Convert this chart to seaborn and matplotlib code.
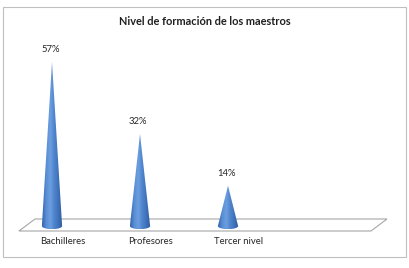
import numpy as np
import matplotlib
matplotlib.use("Agg")
import matplotlib.pyplot as plt
from matplotlib.colors import LinearSegmentedColormap
from matplotlib.patches import Polygon, Rectangle
import seaborn as sns

# --- data ---
categories = ["Bachilleres", "Profesores", "Tercer nivel"]
values = [57, 32, 14]
value_labels = ["57%", "32%", "14%"]
title = "Nivel de formación de los maestros"

W, H = 410, 268
sns.set_style("white")
plt.rcParams["font.family"] = ["Lato", "DejaVu Sans"]

fig = plt.figure(figsize=(W / 100, H / 100), dpi=100)
ax = fig.add_axes([0, 0, 1, 1])
ax.set_facecolor("none")

sns.barplot(x=categories, y=values, ax=ax, color="#4A7EC4", width=0.23)
bars = list(ax.patches)


def fx(px):
    return px / W


def fy(py):
    return 1 - py / H


# outer border and 3-D floor (figure pixel positions)
ax.add_patch(Rectangle((fx(3), fy(257)), fx(403), 250 / H, transform=fig.transFigure,
                       fill=False, ec="#BFBFBF", lw=0.8, zorder=0))
floor = [(19, 231), (35, 219), (387, 219), (371, 231)]
ax.add_patch(Polygon([(fx(a), fy(b)) for a, b in floor], closed=True, transform=fig.transFigure,
                     fc="white", ec="#A6A6A6", lw=0.8, zorder=1))

# shading for the cones
cone_cmap = LinearSegmentedColormap.from_list(
    "cone", ["#3566AC", "#5A8ED6", "#6B9EE0", "#4E83CC", "#3E70B8", "#2D5A9C"])
grad = np.linspace(0, 1, 64).reshape(1, -1)

# replace each bar with a cone
for i, bar in enumerate(bars):
    xc = bar.get_x() + bar.get_width() / 2
    hw = bar.get_width() / 2
    h = bar.get_height()
    bar.set_visible(False)
    eh = 1.1
    t = np.linspace(np.pi, 2 * np.pi, 40)
    pts = [(xc, h)] + [(xc + hw * np.cos(a), eh * np.sin(a)) for a in t]
    cone = Polygon(pts, closed=True, fc="none", ec="none")
    ax.add_patch(cone)
    im = ax.imshow(grad, cmap=cone_cmap, extent=[xc - hw, xc + hw, -eh, h],
                   aspect="auto", zorder=3, interpolation="bilinear")
    im.set_clip_path(cone)
    ax.text(xc - 0.02, h + 2.7, value_labels[i], ha="center", va="bottom", fontsize=6.8,
            color="#262626", zorder=4)
    ax.text(xc + 0.12, -5.4, categories[i], ha="center", va="center",
            fontsize=6.8, color="#262626", zorder=4)

# map data onto the figure: category spacing 88px, 0% at y=226px, 2.877px per %
x0 = -0.5 - 8 / 88
ax.set_xlim(x0, x0 + W / 88)
ax.set_ylim((226 - H) / 2.877, 226 / 2.877)
ax.set_axis_off()

fig.text(0.5, fy(21), title, ha="center", va="center", fontsize=7.9,
         fontweight="bold", color="#1F1F1F")

fig.savefig("out.png", dpi=100)
